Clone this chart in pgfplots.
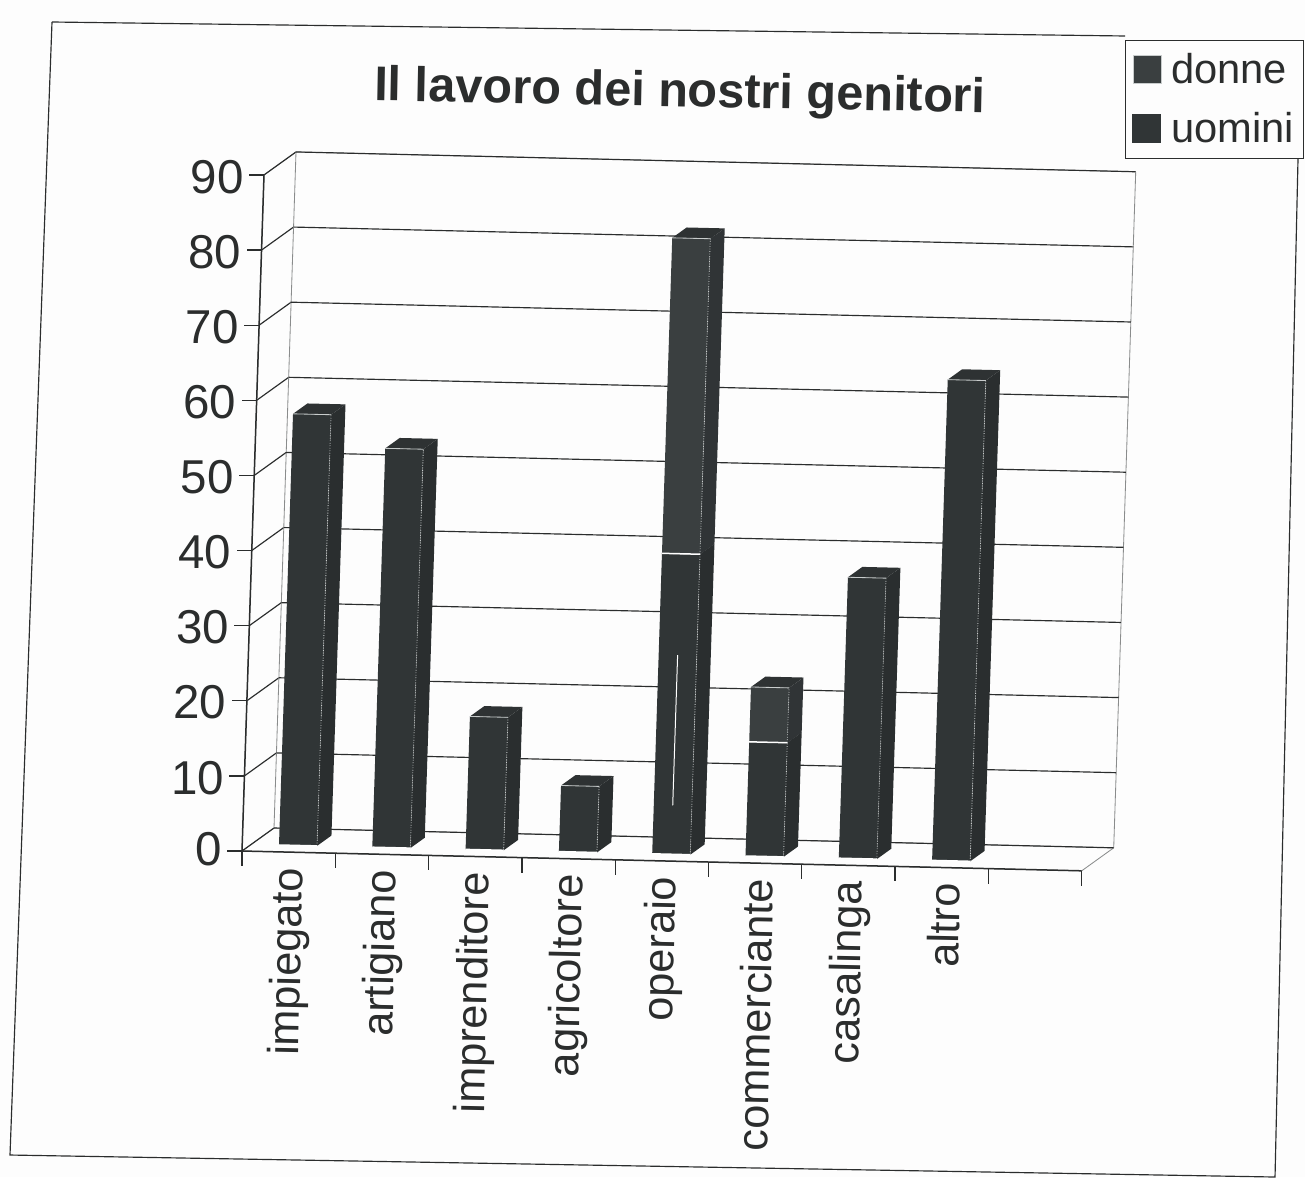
\documentclass[border=0pt]{standalone}
\usepackage{fontspec}
\setmainfont{Liberation Sans}
\usepackage{pgfplots}
\usepackage{pgfplotstable}
\pgfplotsset{compat=1.18}
\definecolor{paper}{HTML}{FDFDFD}
\definecolor{ink}{HTML}{2B2D2D}
\definecolor{frontU}{HTML}{303536}
\definecolor{frontD}{HTML}{3A3F40}
\definecolor{sideU}{HTML}{2A2E2F}
\definecolor{sideD}{HTML}{303436}
\definecolor{topc}{HTML}{2E3233}
\definecolor{edge}{HTML}{C8CCCC}
\definecolor{wall}{HTML}{8A8C8C}
\pgfplotstableread{
pos uomini donne
0 57.4 0
1 53.1 0
2 17.7 0
3 8.8 0
4 40 42
5 15.2 7.3
6 37.4 0
7 64 0
}\lavoro
\newcommand\segment[5]{% x, z0, z1, front, side
  \pgfmathsetmacro\xa{#1+0.297}\pgfmathsetmacro\xb{#1+0.705}%
  \pgfmathsetmacro\zb{#3}\pgfmathsetmacro\za{#2}%
  \addplot3[draw=none,fill=#5,no marks,forget plot] coordinates {(\xb,0.29,\za)(\xb,0.74,\za)(\xb,0.74,\zb)(\xb,0.29,\zb)(\xb,0.29,\za)};
  \addplot3[draw=none,fill=topc,no marks,forget plot] coordinates {(\xa,0.29,\zb)(\xb,0.29,\zb)(\xb,0.74,\zb)(\xa,0.74,\zb)(\xa,0.29,\zb)};
  \addplot3[draw=none,fill=#4,no marks,forget plot] coordinates {(\xa,0.29,\za)(\xb,0.29,\za)(\xb,0.29,\zb)(\xa,0.29,\zb)(\xa,0.29,\za)};
  \addplot3[edge,line width=0.5pt,no marks,forget plot] coordinates {(\xa,0.29,\zb)(\xb,0.29,\zb)};
  \addplot3[edge,line width=0.5pt,densely dotted,no marks,forget plot] coordinates {(\xb,0.29,\za)(\xb,0.29,\zb)};
  \addplot3[white,line width=0.9pt,no marks,forget plot] coordinates {(\xa,0.29,\za)(\xb,0.29,\za)};
}
\begin{document}
\begin{tikzpicture}
\path[use as bounding box,fill=paper] (0,0) rectangle (783pt,-706.2pt);
% scanned page frame
\begin{scope}[x=0.6pt,y=-0.6pt,draw=ink]
\draw[line width=0.7pt] (52,22) -- (1125,36);
\draw[line width=0.7pt] (52,22) -- (10,1155) -- (1275,1177) -- (1298,158);
\node[rotate=-1.1,font=\bfseries\fontsize{29.2}{32}\selectfont,text=ink] at (680,94) {Il lavoro dei nostri genitori};
\end{scope}
\begin{axis}[
  at={(145.2pt,-510.6pt)},anchor=origin,
  x={(55.98pt,-1.32pt)},
  y={(19.2pt,13.8pt)},
  z={(0.1467pt,4.507pt)},
  xmin=0,xmax=9,ymin=0,ymax=1,zmin=0,zmax=90,
  clip=false,
  axis line style={wall,line width=0.5pt},
  major tick length=0pt,minor tick length=0pt,
  tick pos=left,
  xtick={0.5,1.5,2.5,3.5,4.5,5.5,6.5,7.5},
  xticklabels={impiegato,artigiano,imprenditore,agricoltore,operaio,commerciante,casalinga,altro},
  ytick=\empty,
  ztick={0,10,20,30,40,50,60,70,80,90},
  zmajorgrids=true,
  xmajorgrids=false,
  ymajorgrids=false,
  grid style={ink,line width=0.7pt},
  xticklabel style={rotate=88.8,anchor=east,font=\fontsize{26}{28}\selectfont,text=ink,xshift=-5.9pt,yshift=-1.9pt},
  zticklabel style={font=\fontsize{28.5}{30}\selectfont,text=ink,xshift=-9pt,yshift=4.8pt},
  /pgf/number format/assume math mode=true,
  legend style={at={(axis cs:8.84,1,107.5)},anchor=north west,draw=ink,fill=paper,
    font=\fontsize{25}{28}\selectfont,text=ink,rotate=-1.2,transform shape,row sep=12pt,
    inner xsep=4pt,inner ysep=5.7pt},
  legend cell align=left,
]
\addlegendimage{legend image code/.code={\draw[fill=frontD,draw=edge,line width=0.6pt] (0pt,-8.4pt) rectangle (16.8pt,8.4pt);\path (20.4pt,0pt);}}
\addlegendentry{donne}
\addlegendimage{legend image code/.code={\fill[frontU] (-0.6pt,-8.4pt) rectangle (16.2pt,8.4pt);\path (20.4pt,0pt);}}
\addlegendentry{uomini}
\pgfplotsinvokeforeach{0,1,2,3,4,5,6,7}{
  \pgfplotstablegetelem{#1}{uomini}\of\lavoro \let\uval\pgfplotsretval
  \pgfplotstablegetelem{#1}{donne}\of\lavoro \let\dval\pgfplotsretval
  \segment{#1}{0}{\uval}{frontU}{sideU}
  \pgfmathparse{\dval>0 ? 1 : 0}
  \ifnum\pgfmathresult=1
    \pgfmathsetmacro\tval{\uval+\dval}
    \segment{#1}{\uval}{\tval}{frontD}{sideD}
  \fi
}
\addplot3[white,line width=0.6pt,no marks,forget plot] coordinates {(4.5,0.29,6.5)(4.5,0.29,26.5)};
% front edges and screen-aligned ticks
\draw[ink,line width=0.9pt] (axis cs:0,0,0) -- (axis cs:9,0,0);
\draw[ink,line width=0.9pt] (axis cs:0,0,0) -- (axis cs:0,0,90);
\pgfplotsinvokeforeach{0,1,2,3,4,5,6,7,8,9}{
  \draw[ink,line width=0.8pt] (axis cs:#1,0,0) -- ++(0pt,-9pt);
}
\pgfplotsinvokeforeach{0,10,20,30,40,50,60,70,80,90}{
  \draw[ink,line width=0.8pt] (axis cs:0,0,#1) -- ++(-9pt,0pt);
}
\end{axis}
\end{tikzpicture}
\end{document}
